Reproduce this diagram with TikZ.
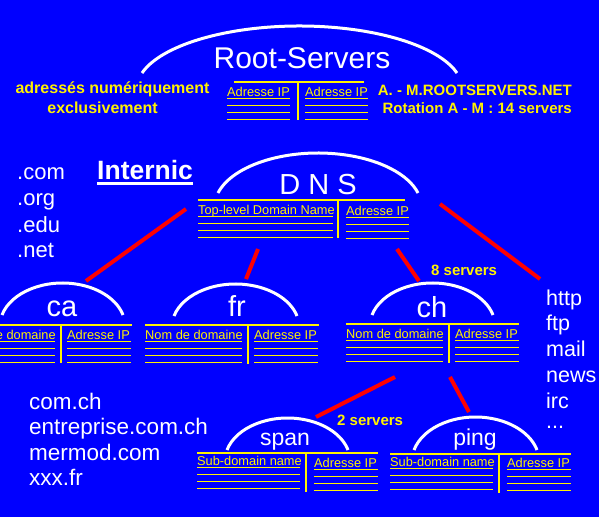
\documentclass[tikz,border=0pt]{standalone}
\usepackage{fontspec}
\setmainfont{Liberation Sans}
\usetikzlibrary{calc}
\definecolor{netblue}{RGB}{0,0,255}
\tikzset{dome/.style={white, line width=3pt}}
\tikzset{link/.style={red, line width=4pt}}
\tikzset{frame/.style={yellow, line width=2pt}}
\tikzset{rule/.style={yellow, line width=1pt}}
\tikzset{head/.style={anchor=base west, inner sep=0pt, text=yellow, font=\fontsize{12.8}{14}\selectfont}}
\tikzset{title/.style={anchor=base, inner sep=0pt, text=white, font=\fontsize{29}{31}\selectfont}}
\tikzset{listing/.style={anchor=base west, inner sep=0pt, text=white, font=\fontsize{22}{24}\selectfont}}
\tikzset{note/.style={inner sep=0pt, text=yellow, font=\bfseries\fontsize{15}{17}\selectfont}}
% dome over a server: centre x, foot y, half width, rise
\newcommand{\dome}[4]{%
  \draw[dome] ({#1-#3},#2) arc[start angle=195, end angle=345, x radius={#3/0.9659}, y radius={#4/0.7412}];}
% one column of a table: name, left x, right x, baseline y, header
\newcommand{\fieldcol}[5]{%
  \node[head] (#1) at (#2,#4) {#5};
  \foreach \dy in {2,9,16,23}
    \draw[rule] (#2,{#4+\dy}) -- (#3,{#4+\dy});}

\begin{document}
\begin{tikzpicture}[x=1pt, y=-1pt]
        \useasboundingbox (0,0) rectangle (599,517);
        \fill[netblue] (0,0) rectangle (599,517);
        \clip (0,0) rectangle (599,517);

        % Root servers
        \dome{299.5}{73}{157.5}{47}
        \node[title, font=\fontsize{30}{32}\selectfont] (root) at (302,68) {Root-Servers};
        \draw[frame] (234,82) -- (364,82);
        \draw[frame] (298,82) -- (298,120);
        \fieldcol{root-ip1}{227}{290}{96}{Adresse IP}
        \fieldcol{root-ip2}{305}{368}{96}{Adresse IP}
        \node[note, anchor=base, font=\bfseries\fontsize{16}{18}\selectfont] (numeric) at (112.5,93) {adressés numériquement};
        \node[note, anchor=base, font=\bfseries\fontsize{16}{18}\selectfont] (exclusive) at (102.5,113) {exclusivement};
        \node[note, anchor=base east] (rootnames) at (572,95) {A. - M.ROOTSERVERS.NET};
        \node[note, anchor=base east] (rotation) at (572,113) {Rotation A - M : 14 servers};

        % DNS
        \dome{318}{193}{100}{40}
        \node[title] (dns) at (318,194) {D N S};
        \draw[frame] (198,200) -- (405,200);
        \draw[frame] (338,200) -- (338,238);
        \fieldcol{dns-tld}{198}{333}{214}{Top-level Domain Name}
        \fieldcol{dns-ip}{346}{409}{215}{Adresse IP}
        \node[anchor=base west, inner sep=0pt, text=white, font=\bfseries\fontsize{26.5}{28}\selectfont] (internic) at (97,179) {Internic};
        \draw[white, line width=3pt] ($(internic.base west)+(0,4.5)$) -- ($(internic.base east)+(0,4.5)$);
        \foreach \name/\y/\txt in {com/179/.com, org/205/.org, edu/232/.edu, net/257/.net}
          \node[listing] (tld-\name) at (17,\y) {\txt};

        % country servers
        \dome{62.5}{315}{60.5}{32}
        \node[title] (ca) at (62,316) {ca};
        \draw[frame] (0,325) -- (132,325);
        \draw[frame] (61,325) -- (61,363);
        \fieldcol{ca-name}{-42}{55}{339}{Nom de domaine}
        \fieldcol{ca-ip}{67}{131}{339}{Adresse IP}

        \dome{235.5}{316}{61.5}{32}
        \node[title] (fr) at (237,316) {fr};
        \draw[frame] (145,325) -- (319,325);
        \draw[frame] (248,325) -- (248,364);
        \fieldcol{fr-name}{145}{242}{339}{Nom de domaine}
        \fieldcol{fr-ip}{254}{318}{339}{Adresse IP}

        \dome{432.5}{315}{60.5}{32}
        \node[title] (ch) at (432,317) {ch};
        \draw[frame] (346,324) -- (519,324);
        \draw[frame] (449,324) -- (449,363);
        \fieldcol{ch-name}{346}{443}{338}{Nom de domaine}
        \fieldcol{ch-ip}{455}{519}{338}{Adresse IP}
        \node[note, anchor=base west] (eight) at (431,275) {8 servers};

        % sub-domain servers
        \dome{287.5}{450}{60.5}{32}
        \node[title, font=\fontsize{23}{25}\selectfont] (span) at (285,445) {span};
        \draw[frame] (197,453) -- (378,453);
        \draw[frame] (306,453) -- (306,492);
        \fieldcol{span-name}{197}{300}{465}{Sub-domain name}
        \fieldcol{span-ip}{314}{378}{467}{Adresse IP}

        \dome{475.5}{450}{61.5}{33}
        \node[title, font=\fontsize{23}{25}\selectfont] (ping) at (475,445) {ping};
        \draw[frame] (390,454) -- (571,454);
        \draw[frame] (499,454) -- (499,493);
        \fieldcol{ping-name}{390}{493}{466}{Sub-domain name}
        \fieldcol{ping-ip}{507}{571}{467}{Adresse IP}
        \node[note, anchor=base west] (two) at (337,425) {2 servers};

        % services and domains
        \foreach \name/\y/\txt in {http/305/http, ftp/330/ftp, mail/356/mail, news/382/news, irc/408/irc}
          \node[listing, font=\fontsize{21.5}{23}\selectfont] (svc-\name) at (546,\y) {\txt};
        \node[listing, font=\fontsize{21.5}{23}\selectfont] (svc-more) at (546,428) {...};
        \foreach \name/\y/\txt in {comch/409/com.ch, corp/434/entreprise.com.ch, mermod/460/mermod.com, xxx/485/xxx.fr}
          \node[listing, font=\fontsize{22.5}{24}\selectfont] (dom-\name) at (29,\y) {\txt};

        % links
        \coordinate (dns-ca) at (186,209);
        \coordinate (ca-top) at (86,281);
        \coordinate (dns-fr) at (258,249);
        \coordinate (fr-top) at (246,279);
        \coordinate (dns-ch) at (397,249);
        \coordinate (ch-top) at (419,281);
        \coordinate (dns-svc) at (440,204);
        \coordinate (svc-top) at (540,279);
        \coordinate (ch-span) at (395,377);
        \coordinate (span-top) at (316,417);
        \coordinate (ch-ping) at (450,377);
        \coordinate (ping-top) at (469,412);
        \draw[link] (dns-ca) -- (ca-top);
        \draw[link] (dns-fr) -- (fr-top);
        \draw[link] (dns-ch) -- (ch-top);
        \draw[link] (dns-svc) -- (svc-top);
        \draw[link] (ch-span) -- (span-top);
        \draw[link] (ch-ping) -- (ping-top);
\end{tikzpicture}
\end{document}
